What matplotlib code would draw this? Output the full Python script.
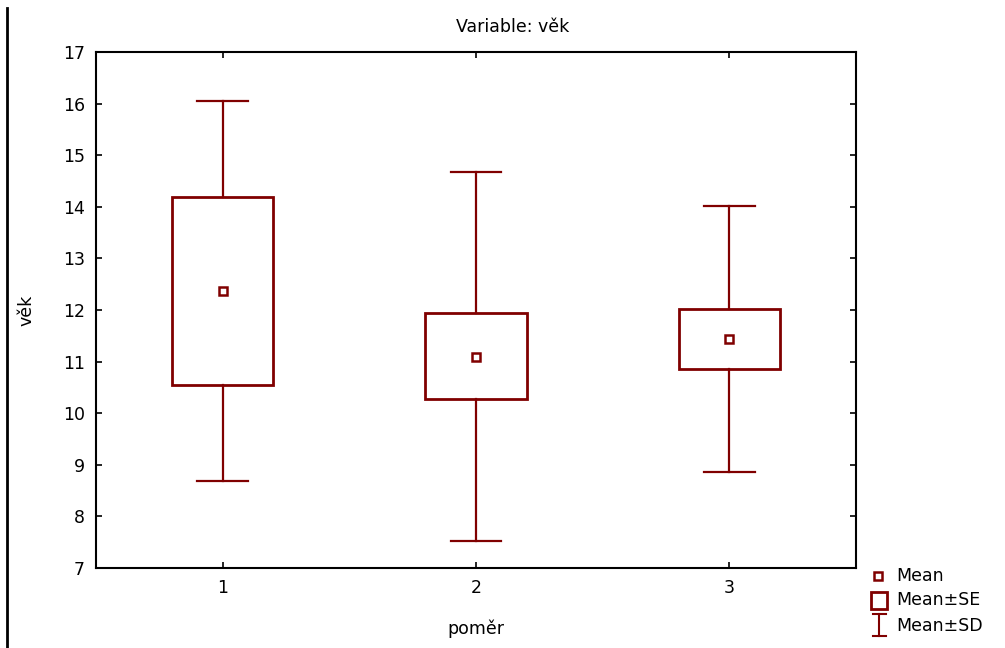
import matplotlib.pyplot as plt
from matplotlib.patches import Rectangle
from matplotlib.lines import Line2D

plt.rcParams['font.family'] = ['DejaVu Sans']

# Data
skupiny = [1, 2, 3]
prumer = [12.37, 11.09, 11.44]
se_dolni = [10.55, 10.28, 10.86]
se_horni = [14.19, 11.94, 12.01]
sd_dolni = [8.69, 7.52, 8.86]
sd_horni = [16.05, 14.67, 14.02]

barva = '#800000'
fs = 12.5

fig = plt.figure(figsize=(10.05, 6.48), dpi=100)
ax = fig.add_axes([96 / 1005, 1 - 568 / 648, 760 / 1005, 516 / 648])

box_w = 0.4
cap_w = 0.2
for x, m, sl, sh, dl, dh in zip(skupiny, prumer, se_dolni, se_horni, sd_dolni, sd_horni):
    ax.add_patch(Rectangle((x - box_w / 2, sl), box_w, sh - sl, fill=False,
                           edgecolor=barva, lw=2, zorder=3))
    ax.plot([x, x], [sh, dh], color=barva, lw=1.6)
    ax.plot([x, x], [sl, dl], color=barva, lw=1.6)
    ax.plot([x - cap_w / 2, x + cap_w / 2], [dh, dh], color=barva, lw=1.6)
    ax.plot([x - cap_w / 2, x + cap_w / 2], [dl, dl], color=barva, lw=1.6)
    ax.plot(x, m, 's', ms=6, mfc='white', mec=barva, mew=1.8, zorder=4)

ax.set_xlim(0.5, 3.5)
ax.set_ylim(7, 17)
ax.set_xticks(skupiny)
ax.set_yticks(range(7, 18))
ax.tick_params(direction='in', top=True, right=True, length=4, width=1.2,
               labelsize=fs, pad=8)
for s in ax.spines.values():
    s.set_linewidth(1.5)

ax.set_xlabel('poměr', fontsize=fs, labelpad=16)
ax.set_ylabel('věk', fontsize=fs, labelpad=20)
fig.text(513 / 1005, 1 - 27 / 648, 'Variable: věk', ha='center', va='center', fontsize=fs)

# left border line
fig.add_artist(Line2D([7 / 1005, 7 / 1005], [0, 1 - 8 / 648], color='black', lw=2))

# legend
lg = fig.add_axes([860 / 1005, 0, 145 / 1005, 88 / 648])
lg.set_xlim(860, 1005)
lg.set_ylim(648, 560)
lg.axis('off')
lg.plot(878, 576, 's', ms=6, mfc='white', mec=barva, mew=1.8)
lg.add_patch(Rectangle((871, 592), 16, 17, fill=False, edgecolor=barva, lw=2))
lg.plot([879, 879], [614, 636], color=barva, lw=1.5)
lg.plot([873, 886], [614, 614], color=barva, lw=1.5)
lg.plot([873, 886], [636, 636], color=barva, lw=1.5)
for yy, t in zip([576, 600, 626], ['Mean', 'Mean±SE', 'Mean±SD']):
    lg.text(896, yy, t, va='center', ha='left', fontsize=fs)

fig.savefig('out.png', dpi=100)
